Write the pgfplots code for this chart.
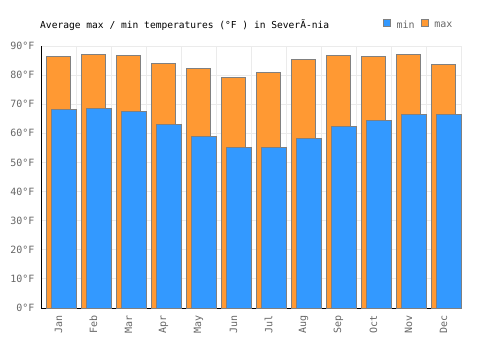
\documentclass[border=0pt]{standalone}
\usepackage{fontspec}
\setmainfont{DejaVu Sans Mono}
\setmonofont{DejaVu Sans Mono}
\usepackage{pgfplots}
\pgfplotsset{compat=1.18}
\definecolor{bblue}{HTML}{3399FF}
\definecolor{borange}{HTML}{FF9933}
\definecolor{bedge}{HTML}{808080}
\definecolor{gridc}{HTML}{EBEBEB}
\definecolor{tickc}{HTML}{666666}
\begin{document}
\begin{tikzpicture}[x=1pt,y=1pt]
\useasboundingbox (0,0) rectangle (500,350);
\node[anchor=west, inner sep=0pt, font=\fontsize{9.6}{12}\selectfont] at (40,324.5) {Average max / min temperatures (°F ) in SeverÃ-nia};
\begin{axis}[
  at={(41pt,42pt)}, anchor=south west,
  scale only axis, width=420pt, height=262pt,
  xmin=-0.5, xmax=11.5, ymin=0, ymax=90,
  axis x line*=bottom, axis y line*=left,
  axis line style={black, line width=0.8pt, -},
  xtick={0,...,11},
  xticklabels={Jan,Feb,Mar,Apr,May,Jun,Jul,Aug,Sep,Oct,Nov,Dec},
  minor xtick={-0.5,0.5,...,11.5},
  xminorgrids, xmajorgrids=false,
  ytick={0,10,...,90},
  yticklabels={0°F,10°F,20°F,30°F,40°F,50°F,60°F,70°F,80°F,90°F},
  ymajorgrids,
  grid style={gridc, line width=0.8pt},
  minor grid style={gridc, line width=0.8pt},
  major tick length=0pt, minor tick length=0pt,
  xticklabel style={rotate=90, anchor=east, font=\fontsize{10}{12}\selectfont, text=tickc},
  yticklabel style={font=\fontsize{10}{12}\selectfont, text=tickc},
  /pgf/number format/assume math mode=true,
  xticklabel shift=4pt, yticklabel shift=3pt,
  legend style={at={(0.985,1.08)}, anchor=east, draw=none, fill=none,
    legend columns=2, font=\fontsize{10}{12}\selectfont, text=tickc,
    inner sep=0pt, column sep=4pt},
  legend cell align=left,
  clip=false,
]
\addplot[ybar, bar width=0.686, bar shift=-0.014, fill=borange, draw=bedge, line width=0.8pt, forget plot]
  coordinates {(0,86.5) (1,87.1) (2,86.8) (3,84.0) (4,82.3) (5,79.2) (6,81.0) (7,85.4) (8,86.8) (9,86.5) (10,87.1) (11,83.7)};
\addplot[ybar, bar width=0.714, bar shift=0.143, fill=bblue, draw=bedge, line width=0.8pt, forget plot]
  coordinates {(0,68.2) (1,68.6) (2,67.6) (3,63.1) (4,59.0) (5,55.2) (6,55.2) (7,58.3) (8,62.4) (9,64.5) (10,66.5) (11,66.5)};
\addlegendimage{legend image code/.code={\draw[fill=bblue, draw=bedge, line width=0.8pt] (0pt,-1pt) rectangle (7pt,6pt);}}
\addlegendentry{min}
\addlegendimage{legend image code/.code={\draw[fill=borange, draw=bedge, line width=0.8pt] (0pt,-1pt) rectangle (7pt,6pt);}}
\addlegendentry{max}
\end{axis}
\end{tikzpicture}
\end{document}
